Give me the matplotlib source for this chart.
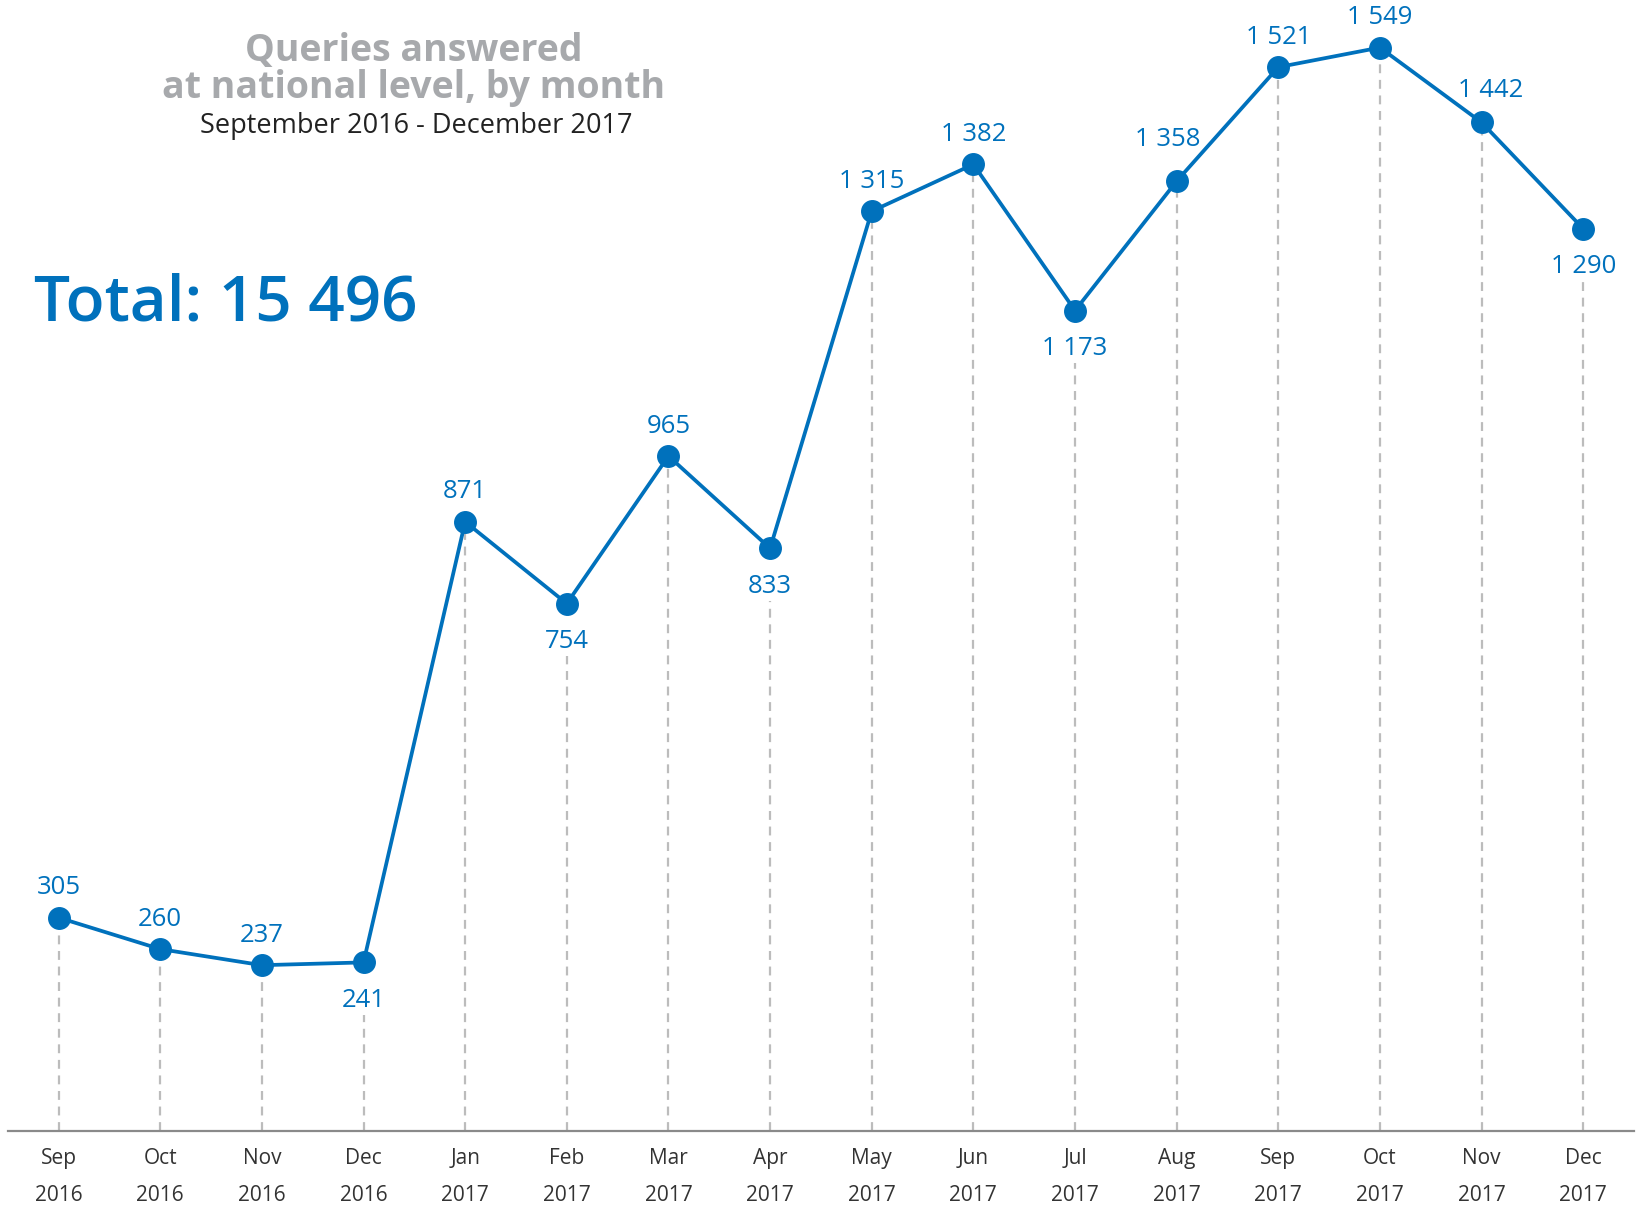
import matplotlib.pyplot as plt

months = ["Sep", "Oct", "Nov", "Dec", "Jan", "Feb", "Mar", "Apr",
          "May", "Jun", "Jul", "Aug", "Sep", "Oct", "Nov", "Dec"]
years = ["2016"] * 4 + ["2017"] * 12
queries = [305, 260, 237, 241, 871, 754, 965, 833,
           1315, 1382, 1173, 1358, 1521, 1549, 1442, 1290]
label_below = [False, False, False, True, False, True, False, True,
               False, False, True, False, False, False, False, True]

blue = "#0071bc"
grey_title = "#a7a9ac"
dash_grey = "#bcbcbc"

plt.rcParams['font.family'] = ['Open Sans', 'DejaVu Sans']

fig = plt.figure(figsize=(16.41, 12.07), dpi=100)
ax = fig.add_axes([0.00475, 0.063, 0.991, 0.937])

x = list(range(len(queries)))
ax.set_xlim(-0.5, len(queries) - 0.5)
ax.set_ylim(0, 1617)

# dashed drop lines
for i, v in enumerate(queries):
    top = v - 75 if label_below[i] else v
    ax.vlines(i, 0, top, colors=dash_grey, linestyles=(0, (4, 3)),
              linewidth=1.6, zorder=1)

ax.plot(x, queries, color=blue, linewidth=2.7, marker="o",
        markersize=15.5, zorder=3)

# a couple of labels are nudged off the line in the original
nudge = {11: (-6.5, 8.5), 14: (6.5, 1.5)}
for i, v in enumerate(queries):
    txt = f"{v:,}".replace(",", " ")
    off = -27.5 if label_below[i] else 21.5
    dx, dy = nudge.get(i, (0, 0))
    ax.annotate(txt, (i, v), xytext=(dx, off + dy), textcoords="offset points",
                ha="center", va="center", fontsize=18.5, color=blue)

ax.set_xticks(x)
ax.set_xticklabels([f"{m}\n{y}" for m, y in zip(months, years)],
                   fontsize=15, color="#333333", linespacing=2.0)
ax.tick_params(axis="x", length=0, pad=12)
ax.set_yticks([])
for s in ["top", "left", "right"]:
    ax.spines[s].set_visible(False)
ax.spines["bottom"].set_color("#8a8a8a")
ax.spines["bottom"].set_linewidth(1.6)

fig.text(414 / 1641, 1 - 51 / 1207, "Queries answered", ha="center", va="center",
         fontsize=27, fontweight="bold", color=grey_title)
fig.text(414 / 1641, 1 - 88 / 1207, "at national level, by month", ha="center",
         va="center", fontsize=27, fontweight="bold", color=grey_title)
fig.text(416 / 1641, 1 - 126 / 1207, "September 2016 - December 2017", ha="center",
         va="center", fontsize=19.5, color="#222222")

fig.text(34 / 1641, 1 - 304 / 1207, "Total: 15 496", ha="left", va="center",
         fontsize=46, fontweight="semibold", color=blue)

fig.savefig("out.png", dpi=100)
